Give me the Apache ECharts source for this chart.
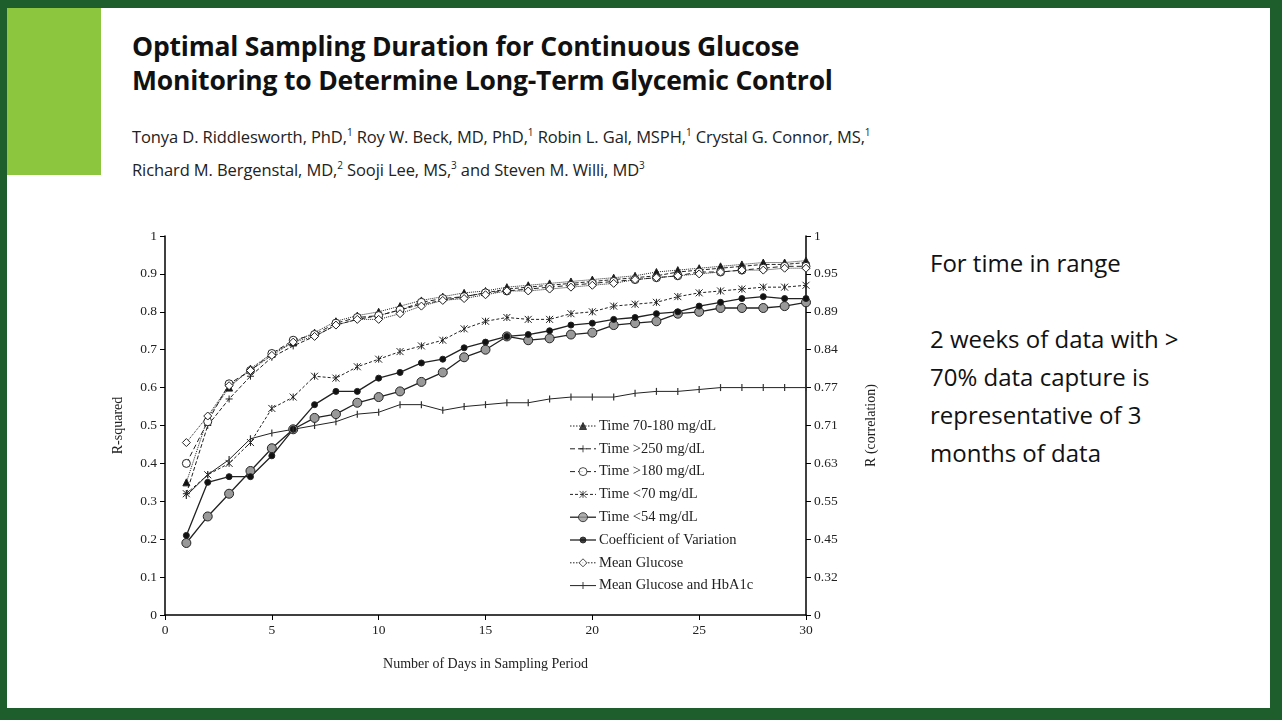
<!DOCTYPE html>
<html>
<head>
<meta charset="utf-8">
<script src="https://cdn.jsdelivr.net/npm/echarts@6/dist/echarts.min.js"></script>
<style>
  html, body { margin: 0; padding: 0; width: 1282px; height: 720px; overflow: hidden; background: #1d5e2c; }
  #slide { position: absolute; left: 7px; top: 8px; width: 1263px; height: 700px; background: #fff; }
  #accent { position: absolute; left: 7px; top: 8px; width: 94px; height: 167px; background: #8cc63f; }
  #title { position: absolute; left: 132px; top: 29px; font: bold 26.5px "Open Sans", sans-serif; color: #111; line-height: 34px; letter-spacing: -0.2px; }
  #authors { position: absolute; left: 132px; top: 118px; font: 16.5px "Open Sans", sans-serif; color: #222; line-height: 28px; letter-spacing: -0.1px; }
  #note { position: absolute; left: 930px; top: 244px; font: 24px "Open Sans", sans-serif; color: #111; line-height: 38px; width: 300px; }
  #chart { position: absolute; left: 0; top: 0; width: 1282px; height: 720px; }
  sup { font-size: 10px; }
</style>
</head>
<body>
<div id="slide"></div>
<div id="accent"></div>
<div id="title">Optimal Sampling Duration for Continuous Glucose<br>Monitoring to Determine Long-Term Glycemic Control</div>
<div id="authors">Tonya D. Riddlesworth, PhD,<sup>1</sup> Roy W. Beck, MD, PhD,<sup>1</sup> Robin L. Gal, MSPH,<sup>1</sup> Crystal G. Connor, MS,<sup>1</sup><br>Richard M. Bergenstal, MD,<sup>2</sup> Sooji Lee, MS,<sup>3</sup> and Steven M. Willi, MD<sup>3</sup></div>
<div id="note">For time in range<br><br>2 weeks of data with &gt; 70% data capture is representative of 3 months of data</div>
<div id="chart"></div>
<script>
// days 1..30
const days = Array.from({ length: 30 }, (_, i) => i + 1)

const time70to180 = [0.35,0.52,0.60,0.65,0.69,0.72,0.745,0.775,0.79,0.80,0.815,0.83,0.84,0.85,0.855,0.865,0.87,0.875,0.88,0.885,0.89,0.895,0.905,0.91,0.915,0.92,0.925,0.93,0.93,0.935]
const timeAbove250 = [0.32,0.50,0.57,0.63,0.68,0.71,0.735,0.765,0.78,0.79,0.805,0.82,0.83,0.84,0.85,0.86,0.865,0.87,0.875,0.88,0.885,0.89,0.895,0.905,0.91,0.915,0.92,0.925,0.925,0.93]
const timeAbove180 = [0.40,0.51,0.61,0.645,0.69,0.725,0.74,0.77,0.785,0.79,0.805,0.825,0.835,0.84,0.85,0.855,0.86,0.865,0.87,0.875,0.88,0.885,0.89,0.895,0.905,0.905,0.91,0.915,0.92,0.92]
const timeBelow70 = [0.32,0.37,0.40,0.455,0.545,0.575,0.63,0.625,0.655,0.675,0.695,0.71,0.725,0.755,0.775,0.785,0.78,0.78,0.795,0.80,0.815,0.82,0.825,0.84,0.85,0.855,0.86,0.865,0.865,0.87]
const timeBelow54 = [0.19,0.26,0.32,0.38,0.44,0.49,0.52,0.53,0.56,0.575,0.59,0.615,0.64,0.68,0.70,0.735,0.725,0.73,0.74,0.745,0.765,0.77,0.775,0.795,0.80,0.81,0.81,0.81,0.815,0.825]
const coefVariation = [0.21,0.35,0.365,0.365,0.42,0.49,0.555,0.59,0.59,0.625,0.64,0.665,0.675,0.705,0.72,0.735,0.74,0.75,0.765,0.77,0.78,0.785,0.795,0.80,0.815,0.825,0.835,0.84,0.835,0.835]
const meanGlucose = [0.455,0.525,0.605,0.645,0.685,0.72,0.735,0.765,0.78,0.78,0.795,0.815,0.83,0.835,0.845,0.855,0.855,0.86,0.865,0.87,0.875,0.885,0.89,0.895,0.90,0.905,0.91,0.91,0.915,0.915]
const meanGlucoseHbA1c = [0.315,0.37,0.41,0.465,0.48,0.49,0.50,0.51,0.53,0.535,0.555,0.555,0.54,0.55,0.555,0.56,0.56,0.57,0.575,0.575,0.575,0.585,0.59,0.59,0.595,0.60,0.60,0.60,0.60,0.60]

// right axis labels (correlation) at each left tick
const rightLabels = ['0','0.32','0.45','0.55','0.63','0.71','0.77','0.84','0.89','0.95','1']

const font = 'Liberation Serif'
const axisCommon = {
  axisLine: { show: true, lineStyle: { color: '#000', width: 1.5 } },
  axisTick: { show: true, length: 5, lineStyle: { color: '#000' } },
  axisLabel: { color: '#222', fontFamily: font, fontSize: 13.5 },
  splitLine: { show: false }
}

// marker shapes
const PLUS = 'path://M0,4H8M4,0V8'
const CROSS = 'path://M0,0L8,8M8,0L0,8M4,0V8'

const seriesStyles = [
  { name: 'Time 70-180 mg/dL', data: time70to180, symbol: 'triangle', size: 7, fill: '#111', line: 'dotted', lw: 1 },
  { name: 'Time >250 mg/dL', data: timeAbove250, symbol: PLUS, size: 7, fill: 'none', line: 'dashed', lw: 1 },
  { name: 'Time >180 mg/dL', data: timeAbove180, symbol: 'circle', size: 8, fill: '#fff', line: [5, 3], lw: 1 },
  { name: 'Time <70 mg/dL', data: timeBelow70, symbol: CROSS, size: 7, fill: 'none', line: [3, 2], lw: 1 },
  { name: 'Time <54 mg/dL', data: timeBelow54, symbol: 'circle', size: 9, fill: '#999', line: 'solid', lw: 1.3 },
  { name: 'Coefficient of Variation', data: coefVariation, symbol: 'circle', size: 6, fill: '#111', line: 'solid', lw: 1.3 },
  { name: 'Mean Glucose', data: meanGlucose, symbol: 'diamond', size: 8, fill: '#fff', line: 'dotted', lw: 1 },
  { name: 'Mean Glucose and HbA1c', data: meanGlucoseHbA1c, symbol: 'rect', size: [1.2, 7], fill: '#333', line: 'solid', lw: 1 }
]

const series = seriesStyles.map(s => ({
  name: s.name,
  type: 'line',
  data: days.map((d, i) => [d, s.data[i]]),
  symbol: s.symbol,
  symbolSize: s.size,
  lineStyle: { color: '#222', width: s.lw, type: s.line },
  itemStyle: { color: s.fill, borderColor: '#222', borderWidth: s.symbol === 'rect' ? 0 : 1 }
}))

// hand-built legend (graphic), one row per series
const legendItems = []
seriesStyles.forEach((s, i) => {
  const y = 426 + i * 22.8
  legendItems.push({
    type: 'line', shape: { x1: 570, y1: y, x2: 596, y2: y },
    style: { stroke: '#222', lineWidth: s.lw, lineDash: s.line === 'solid' ? null : (s.line === 'dotted' ? [1.5, 1.5] : (s.line === 'dashed' ? [5, 3] : s.line)) }
  })
  legendItems.push({
    type: 'text', x: 599, y: y,
    style: { text: s.name, font: '14.5px "Liberation Serif"', fill: '#222', verticalAlign: 'middle' }
  })
})

const chart = echarts.init(document.getElementById('chart'))
chart.setOption({
  animation: false,
  backgroundColor: 'transparent',
  grid: { left: 165, right: 476, top: 236, bottom: 105 },
  xAxis: Object.assign({}, axisCommon, {
    type: 'value', min: 0, max: 30, interval: 5,
    name: 'Number of Days in Sampling Period', nameLocation: 'middle', nameGap: 42,
    nameTextStyle: { fontFamily: font, fontSize: 14, color: '#222' }
  }),
  yAxis: [
    Object.assign({}, axisCommon, {
      type: 'value', min: 0, max: 1, interval: 0.1,
      name: 'R-squared', nameLocation: 'middle', nameGap: 40,
      nameTextStyle: { fontFamily: font, fontSize: 14, color: '#222' }
    }),
    Object.assign({}, axisCommon, {
      type: 'value', min: 0, max: 1, interval: 0.1, position: 'right',
      axisLabel: { color: '#222', fontFamily: font, fontSize: 13.5,
        formatter: v => rightLabels[Math.round(v * 10)] },
      name: 'R (correlation)', nameLocation: 'middle', nameGap: 58, nameRotate: 90,
      nameTextStyle: { fontFamily: font, fontSize: 14, color: '#222' }
    })
  ],
  series: series,
  graphic: legendItems
})

// legend markers drawn with the same symbols as the series
const markerSeries = seriesStyles.map((s, i) => ({
  type: 'scatter', silent: true, xAxisIndex: 0, yAxisIndex: 0,
  data: [chart.convertFromPixel({ gridIndex: 0 }, [583, 426 + i * 22.8])],
  symbol: s.symbol, symbolSize: s.size,
  itemStyle: { color: s.fill, borderColor: '#222', borderWidth: s.symbol === 'rect' ? 0 : 1 }
}))
chart.setOption({ series: series.concat(markerSeries) })
</script>
</body>
</html>
